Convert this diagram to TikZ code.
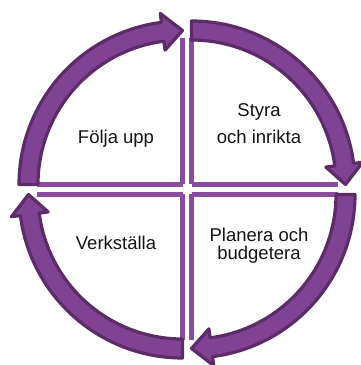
\documentclass[tikz,border=0pt]{standalone}
\usepackage{fontspec}
\setmainfont{Liberation Sans}
\definecolor{bandfill}{RGB}{128,66,146}
\definecolor{banddraw}{RGB}{92,44,104}
\definecolor{sectline}{RGB}{138,76,158}
\definecolor{txt}{RGB}{20,20,20}
\tikzset{
  band/.style={fill=bandfill, draw=banddraw, line width=3.2pt, line join=round},
  secline/.style={draw=sectline, line width=4.5pt},
  lbl/.style={anchor=base, text=txt, font=\fontsize{18.5}{22}\selectfont, inner sep=0pt},
}
\newcommand{\quadarrow}{%
  \draw[secline] (0,0) -- (90:146);
  \draw[secline] (0,0) -- (180:146);
  \draw[band] (180:163.5) arc[start angle=180, end angle=97.4, radius=163.5]
    -- (97.4:172.5) -- (90:154) -- (97.4:135.5) -- (97.4:144.5)
    arc[start angle=97.4, end angle=180, radius=144.5] -- cycle;
}
\begin{document}
\begin{tikzpicture}[x=1pt,y=1pt]
\useasboundingbox (0,0) rectangle (361,365);
\fill[white] (0,0) rectangle (361,365);
\begin{scope}[shift={(182.5,180.5)}]\quadarrow\end{scope}
\begin{scope}[shift={(191.5,180.5)}, rotate=-90]\quadarrow\end{scope}
\begin{scope}[shift={(191.5,170.5)}, rotate=-180]\quadarrow\end{scope}
\begin{scope}[shift={(182.5,170.5)}, rotate=-270]\quadarrow\end{scope}
\node[lbl] (folja) at (116,221) {Följa upp};
\node[lbl] (styra) at (259,248) {Styra};
\node[lbl] (inrikta) at (259,221) {och inrikta};
\node[lbl] (verk) at (116,115) {Verkställa};
\node[lbl] (planera) at (259,123.3) {Planera och};
\node[lbl] (budget) at (259,105) {budgetera};
\end{tikzpicture}
\end{document}
